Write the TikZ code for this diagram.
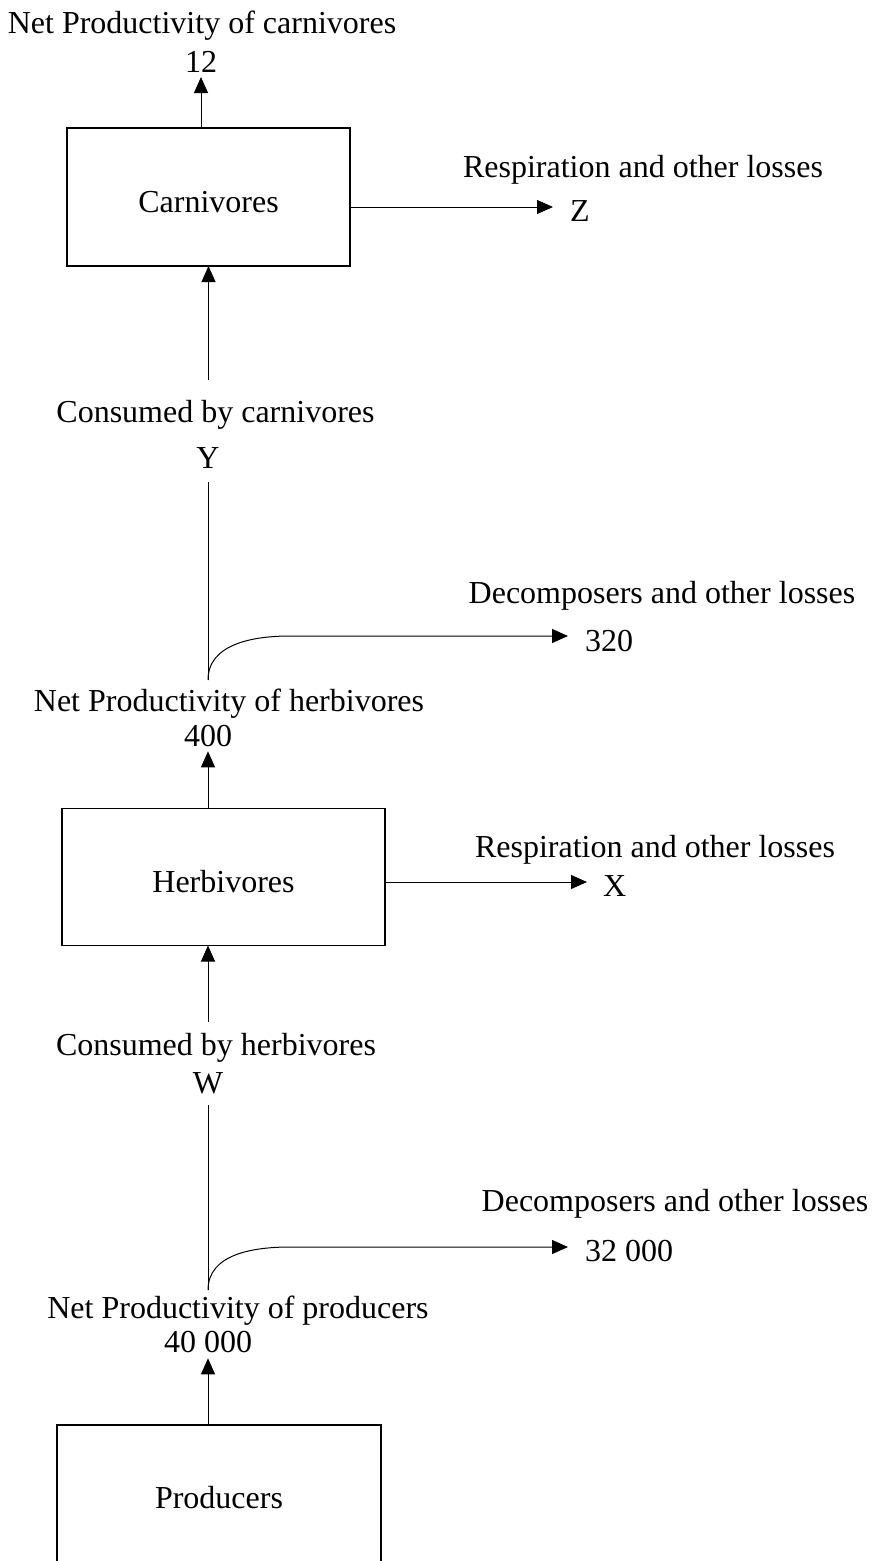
\documentclass[tikz,border=0pt]{standalone}
\usepackage{fontspec}
\setmainfont{Liberation Serif}
\usetikzlibrary{arrows.meta}
\tikzset{
    font = \fontsize{32}{36}\selectfont,
    every node/.style = {
        inner sep = 0pt,
        outer sep = 0pt
    },
    note/.style = {
        anchor = base
    },
    note right/.style = {
        anchor = base west
    },
    level/.style = {
        draw,
        line width = 1.1pt,
        text height = 31pt
    },
    trace/.style = {
        -{Triangle[length=16pt,width=14pt]},
        line width = 1pt
    },
    link/.style = {
        line width = 1pt
    }
}

\begin{document}
\begin{tikzpicture}[x=1pt,y=-1pt]
    \useasboundingbox (0,0) rectangle (872,1561);
    % carnivores
    \node (ncarn) at (202,33) [note]{Net Productivity of carnivores};
    \node (n12) at (201,72) [note]{12};
    \node (carn) at (208.5,197) [level, minimum width=283pt, minimum height=138pt]{Carnivores};
    \node (resp1) at (643,177) [note]{Respiration and other losses};
    \node (z) at (570,221) [note right]{Z};
    \node (cons1) at (215.5,422) [note]{Consumed by carnivores};
    \node (y) at (208,468) [note]{Y};
    \draw[trace] (carn.north -| n12) -- ([yshift=-5pt]n12.south);
    \draw[trace, shorten >=17pt] ([yshift=-10pt]carn.east) -- ([yshift=-10pt]carn.east -| z.west);
    \draw[trace] ([yshift=20pt]cons1.north -| carn.south) -- (carn.south);
    % herbivores
    \coordinate (split1) at (208,680);
    \coordinate (bend1) at (290,636);
    \node (dec1) at (662,603) [note]{Decomposers and other losses};
    \node (n320) at (585,651) [note right]{320};
    \node (nherb) at (229,711) [note]{Net Productivity of herbivores};
    \node (n400) at (208,746) [note]{400};
    \node (herb) at (223.5,877) [level, minimum width=323pt, minimum height=137pt]{Herbivores};
    \node (resp2) at (655,857) [note]{Respiration and other losses};
    \node (x) at (603,896) [note right]{X};
    \node (cons2) at (216,1055) [note]{Consumed by herbivores};
    \node (w) at (208,1093) [note]{W};
    \draw[link] ([yshift=-14pt]y.south) -- (split1);
    \draw[trace, shorten >=17pt] (split1) to[out=90,in=180] (bend1) -- (bend1 -| n320.west);
    \draw[trace] (herb.north -| n400) -- ([yshift=-5pt]n400.south);
    \draw[trace, shorten >=16pt] ([yshift=-5pt]herb.east) -- ([yshift=-5pt]herb.east -| x.west);
    \draw[trace] ([yshift=11pt]cons2.north -| n400) -- (herb.south -| n400);
    % producers
    \coordinate (split2) at (208,1290);
    \coordinate (bend2) at (290,1247);
    \node (dec2) at (675,1211) [note]{Decomposers and other losses};
    \node (n32k) at (585,1261) [note right]{32 000};
    \node (nprod) at (238,1318) [note]{Net Productivity of producers};
    \node (n40k) at (208,1352) [note]{40 000};
    \node (prod) at (219,1493) [minimum width=324pt, minimum height=136pt, text height=31pt]{Producers};
    \draw[line width=1.1pt] (prod.south west) |- (prod.north east) -- (prod.south east);
    \draw[link] ([yshift=-12pt]w.south) -- (split2);
    \draw[trace, shorten >=17pt] (split2) to[out=90,in=180] (bend2) -- (bend2 -| n32k.west);
    \draw[trace] (prod.north -| n40k) -- ([yshift=-6pt]n40k.south);
\end{tikzpicture}
\end{document}
